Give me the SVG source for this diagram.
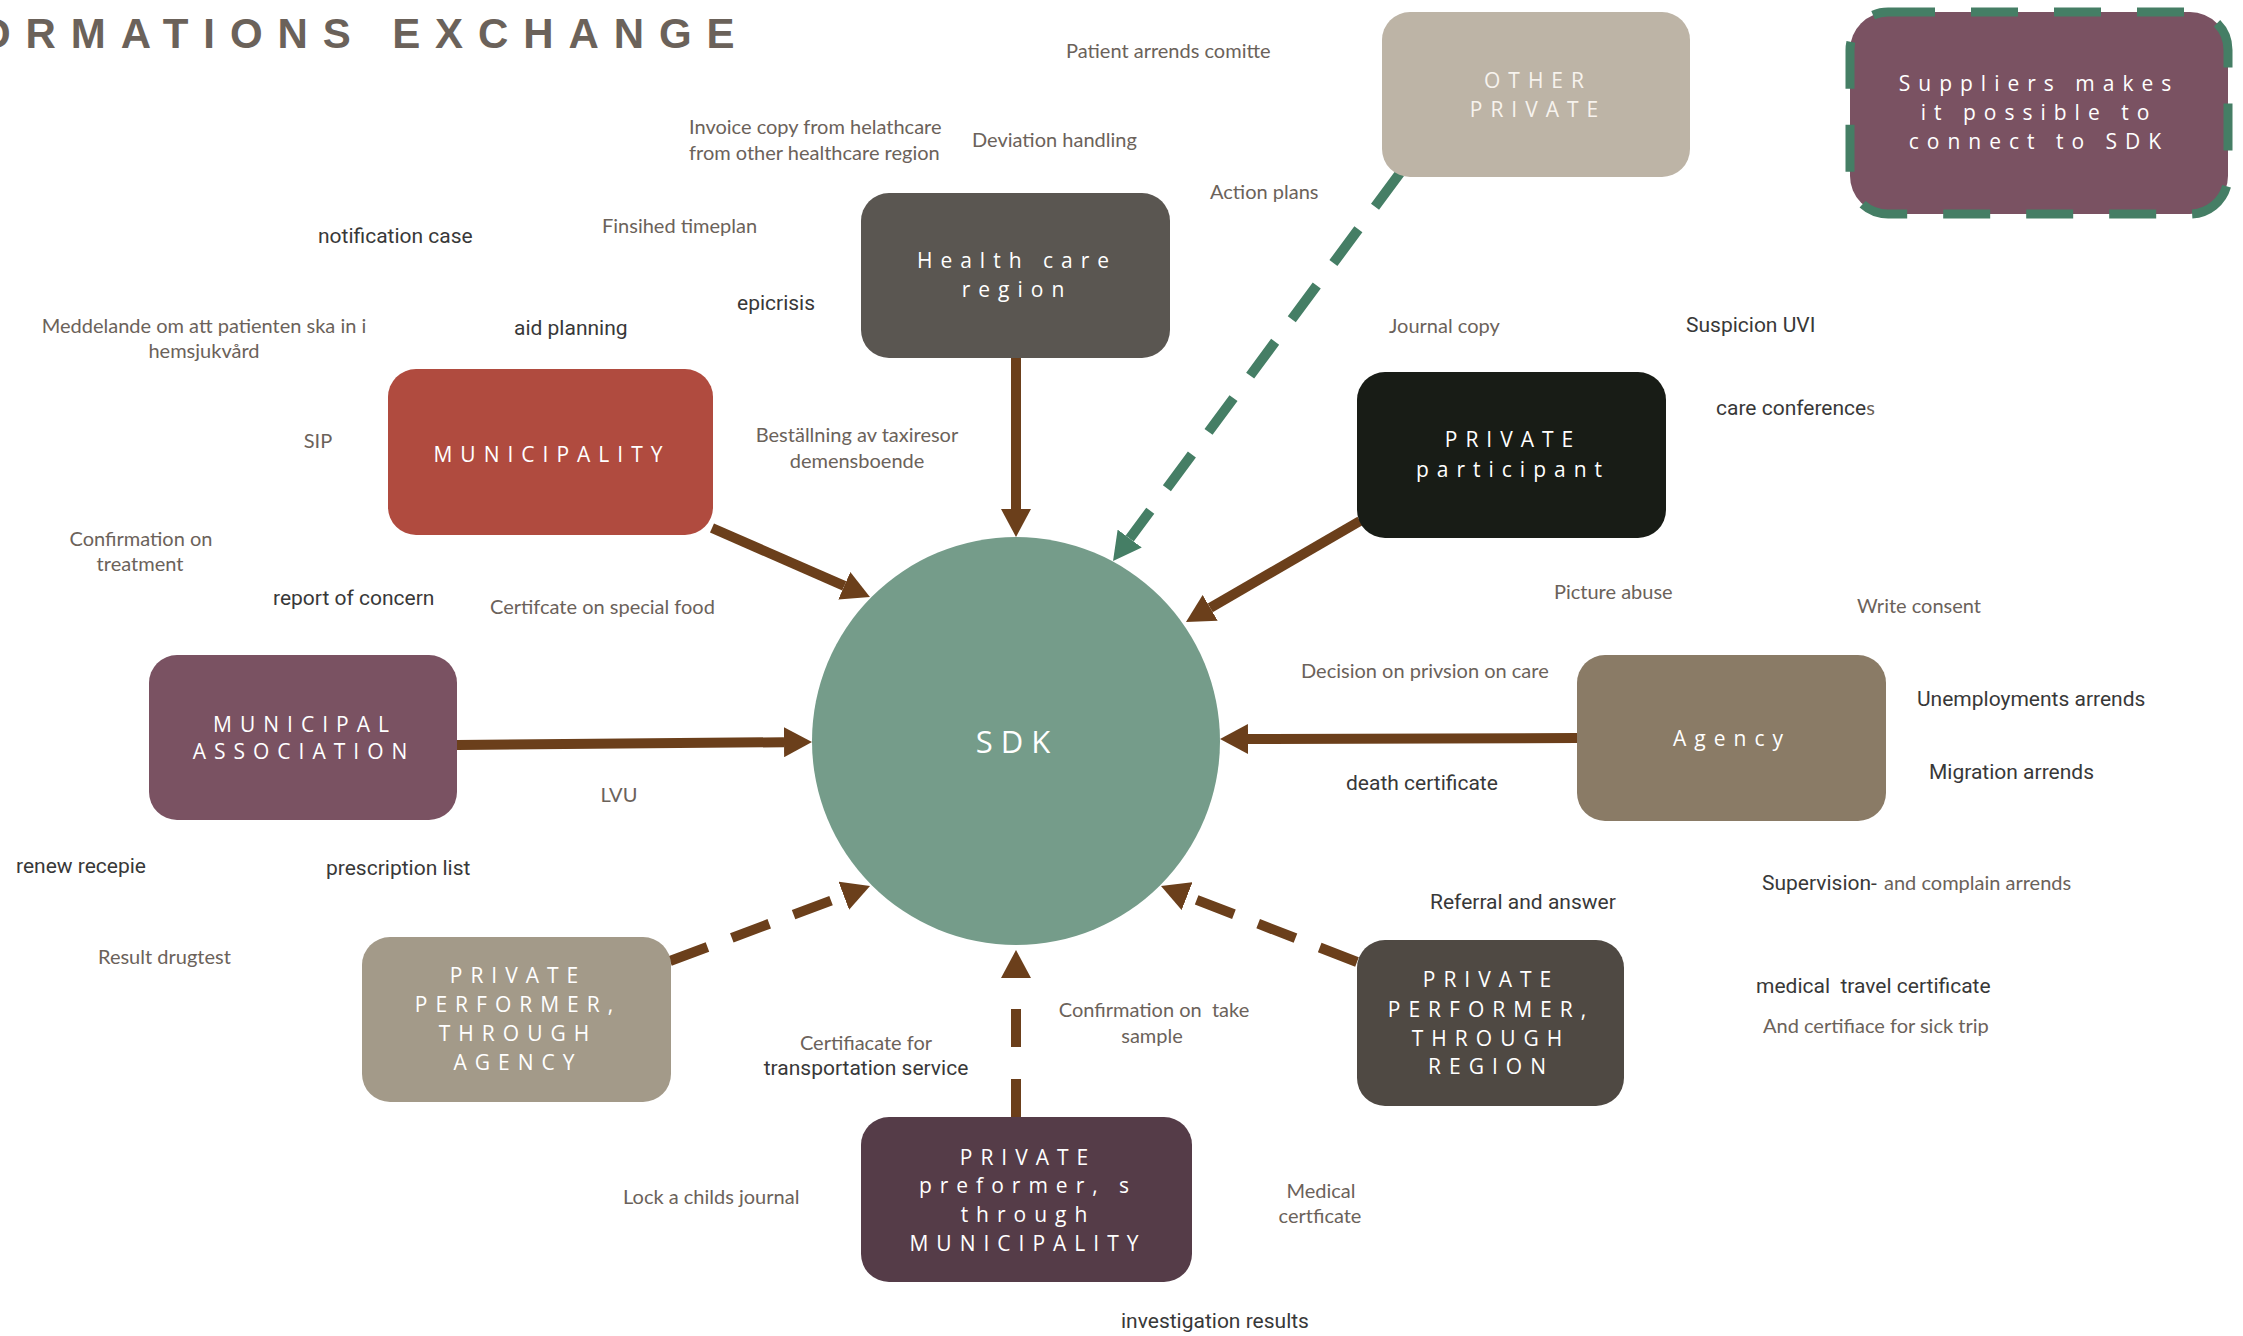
<svg xmlns="http://www.w3.org/2000/svg" width="2243" height="1336" viewBox="0 0 2243 1336">
<style>
.bg{fill:#ffffff}
.node{stroke:none}
.nl{font-family:"Open Sans","Liberation Sans",sans-serif;font-size:21px;fill:#ffffff;letter-spacing:8px;text-anchor:middle}
.g{font-family:Lato,"Liberation Sans",sans-serif;font-size:20px;fill:#6b625a}
.d{font-family:Roboto,"Liberation Sans",sans-serif;font-size:21px;fill:#383838}
.m{text-anchor:middle}
.title{font-family:"Liberation Sans",Arial,sans-serif;font-weight:bold;font-size:42px;fill:#6b625a;letter-spacing:14.9px}
.br{fill:none;stroke:#6b3f1b;stroke-width:10}
.brd{fill:none;stroke:#6b3f1b;stroke-width:10;stroke-dasharray:40 26}
.gr{fill:none;stroke:#457e65;stroke-width:10;stroke-dasharray:42 28}
</style>
<defs>
<marker id="ab" viewBox="0 0 30 30" refX="0" refY="15" markerWidth="30" markerHeight="30" markerUnits="userSpaceOnUse" orient="auto"><path d="M0,0 L28,15 L0,30 Z" fill="#6b3f1b"/></marker>
<marker id="ag" viewBox="0 0 30 30" refX="0" refY="15" markerWidth="30" markerHeight="30" markerUnits="userSpaceOnUse" orient="auto"><path d="M0,0 L28,15 L0,30 Z" fill="#457e65"/></marker>
</defs>
<rect class="bg" x="0" y="0" width="2243" height="1336"/>
<text class="title" x="-22" y="48">ORMATIONS EXCHANGE</text>

<g id="connectors">
<line class="br" x1="1016" y1="358" x2="1016" y2="509" marker-end="url(#ab)"/>
<line class="br" x1="712" y1="528" x2="844.3" y2="585.8" marker-end="url(#ab)"/>
<line class="br" x1="457" y1="745" x2="784" y2="742.2" marker-end="url(#ab)"/>
<line class="br" x1="1577" y1="738" x2="1248" y2="739" marker-end="url(#ab)"/>
<line class="br" x1="1360" y1="521" x2="1210.2" y2="607.9" marker-end="url(#ab)"/>
<line class="gr" x1="1400" y1="173" x2="1129.7" y2="538.5" marker-end="url(#ag)"/>
<line class="brd" x1="670" y1="961" x2="843.8" y2="895.8" marker-end="url(#ab)"/>
<line class="brd" x1="1357" y1="962" x2="1187.1" y2="896.1" marker-end="url(#ab)"/>
<line class="brd" style="stroke-dasharray:38 32" x1="1016" y1="1117" x2="1016" y2="978" marker-end="url(#ab)"/>
</g>

<g id="sdk">
<circle cx="1016" cy="741" r="204" fill="#759c8a"/>
<text class="nl" style="font-size:31px" x="1017" y="753">SDK</text>
</g>

<g id="health-care-region">
<rect class="node" x="861" y="193" width="309" height="165" rx="28" fill="#5a5651"/>
<text class="nl" x="1017" y="268">Health care</text>
<text class="nl" x="1017" y="297">region</text>
</g>

<g id="other-private">
<rect class="node" x="1382" y="12" width="308" height="165" rx="28" fill="#bdb4a6"/>
<text class="nl" style="fill:#f7f3ee" x="1538" y="88">OTHER</text>
<text class="nl" style="fill:#f7f3ee" x="1538" y="117">PRIVATE</text>
</g>

<g id="suppliers">
<rect x="1850" y="12" width="378" height="202" rx="38" fill="#7a5262" stroke="#457e65" stroke-width="9" stroke-dasharray="47 36"/>
<text class="nl" x="2039" y="91">Suppliers makes</text>
<text class="nl" x="2039" y="120">it possible to</text>
<text class="nl" x="2039" y="149">connect to SDK</text>
</g>

<g id="municipality">
<rect class="node" x="388" y="369" width="325" height="166" rx="28" fill="#b04b3f"/>
<text class="nl" x="552" y="462">MUNICIPALITY</text>
</g>

<g id="private-participant">
<rect class="node" x="1357" y="372" width="309" height="166" rx="28" fill="#181c16"/>
<text class="nl" x="1513" y="447">PRIVATE</text>
<text class="nl" x="1513" y="477">participant</text>
</g>

<g id="municipal-association">
<rect class="node" x="149" y="655" width="308" height="165" rx="28" fill="#7a5262"/>
<text class="nl" x="305" y="732">MUNICIPAL</text>
<text class="nl" x="304" y="759">ASSOCIATION</text>
</g>

<g id="agency">
<rect class="node" x="1577" y="655" width="309" height="166" rx="28" fill="#8a7b66"/>
<text class="nl" x="1732" y="746">Agency</text>
</g>

<g id="private-performer-agency">
<rect class="node" x="362" y="937" width="309" height="165" rx="28" fill="#a39a89"/>
<text class="nl" x="518" y="983">PRIVATE</text>
<text class="nl" x="518" y="1012">PERFORMER,</text>
<text class="nl" x="518" y="1041">THROUGH</text>
<text class="nl" x="518" y="1070">AGENCY</text>
</g>

<g id="private-performer-region">
<rect class="node" x="1357" y="940" width="267" height="166" rx="28" fill="#4f4943"/>
<text class="nl" x="1491" y="987">PRIVATE</text>
<text class="nl" x="1491" y="1017">PERFORMER,</text>
<text class="nl" x="1491" y="1046">THROUGH</text>
<text class="nl" x="1491" y="1074">REGION</text>
</g>

<g id="private-performer-municipality">
<rect class="node" x="861" y="1117" width="331" height="165" rx="28" fill="#553c48"/>
<text class="nl" x="1028" y="1165">PRIVATE</text>
<text class="nl" x="1028" y="1193">preformer, s</text>
<text class="nl" x="1028" y="1222">through</text>
<text class="nl" x="1028" y="1251">MUNICIPALITY</text>
</g>

<g id="labels">
<text class="g" x="689" y="134">Invoice copy from helathcare</text>
<text class="g" x="689" y="160">from other healthcare region</text>
<text class="g" x="1066" y="58">Patient arrends comitte</text>
<text class="g" x="972" y="147">Deviation handling</text>
<text class="g" x="1210" y="199">Action plans</text>
<text class="g" x="602" y="233">Finsihed timeplan</text>
<text class="g" x="1389" y="333">Journal copy</text>
<text class="g m" x="204" y="333">Meddelande om att patienten ska in i</text>
<text class="g m" x="204" y="358">hemsjukvård</text>
<text class="g m" x="318" y="448">SIP</text>
<text class="g m" x="141" y="546">Confirmation on</text>
<text class="g m" x="140" y="571">treatment</text>
<text class="g" x="490" y="614">Certifcate on special food</text>
<text class="g m" x="857" y="442">Beställning av taxiresor</text>
<text class="g m" x="857" y="468">demensboende</text>
<text class="g m" x="619" y="802">LVU</text>
<text class="g" x="98" y="964">Result drugtest</text>
<text class="g m" x="866" y="1050">Certifiacate for</text>
<text class="g m" x="1154" y="1017" xml:space="preserve">Confirmation on  take</text>
<text class="g m" x="1152" y="1043">sample</text>
<text class="g" x="623" y="1204">Lock a childs journal</text>
<text class="g m" x="1321" y="1198">Medical</text>
<text class="g m" x="1320" y="1223">certficate</text>
<text class="g" x="1554" y="599">Picture abuse</text>
<text class="g" x="1857" y="613">Write consent</text>
<text class="g" x="1301" y="678">Decision on privsion on care</text>
<text class="g" x="1884" y="890">and complain arrends</text>
<text class="g" x="1763" y="1033">And certifiace for sick trip</text>

<text class="d" x="318" y="243">notification case</text>
<text class="d" x="514" y="335">aid planning</text>
<text class="d" x="737" y="310">epicrisis</text>
<text class="d" x="273" y="605">report of concern</text>
<text class="d" x="16" y="873">renew recepie</text>
<text class="d" x="326" y="875">prescription list</text>
<text class="d" x="1686" y="332">Suspicion UVI</text>
<text class="d" x="1716" y="415">care conference<tspan class="g">s</tspan></text>
<text class="d" x="1917" y="706">Unemployments arrends</text>
<text class="d" x="1929" y="779">Migration arrends</text>
<text class="d" x="1346" y="790">death certificate</text>
<text class="d" x="1430" y="909">Referral and answer</text>
<text class="d" x="1762" y="890">Supervision-</text>
<text class="d" x="1756" y="993" xml:space="preserve">medical  travel certificate</text>
<text class="d m" x="866" y="1075">transportation service</text>
<text class="d" x="1121" y="1328">investigation results</text>
</g>
</svg>
